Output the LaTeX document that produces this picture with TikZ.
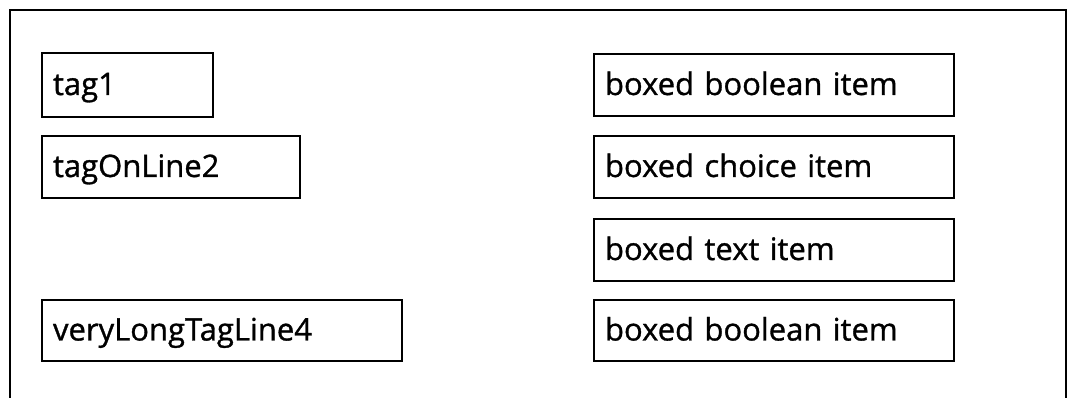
\documentclass[tikz,border=0pt]{standalone}
\usepackage{fontspec}
\setmainfont{Open Sans}
\newfontfamily\itemfont{Open Sans}[FakeBold=1.0]
\begin{document}
\begin{tikzpicture}[x=1pt,y=-1pt,
  itembox/.style={draw,line width=2pt,anchor=north west,inner xsep=11pt,inner ysep=0pt,
    align=left,text height=20pt,text depth=0pt,font=\itemfont\fontsize{31}{33}\selectfont},
  frameline/.style={line width=1.4pt}]
\useasboundingbox (0,0) rectangle (1069,398);
\coordinate (fbl) at (10,398);
\coordinate (ftl) at (10,10);
\coordinate (ftr) at (1066,10);
\coordinate (fbr) at (1066,398);
\draw[frameline] (fbl) -- (ftl) -- (ftr) -- (fbr);
% left column
\node[itembox,text width=149pt,minimum height=64pt] (t1) at (41,52) {tag1};
\node[itembox,text width=236pt,minimum height=62pt] (t2) at (41,135) {tagOnLine2};
\node[itembox,text width=338pt,minimum height=61pt] (t4) at (41,299) {veryLongTagLine4};
% right column
\node[itembox,text width=338pt,minimum height=62pt] (b1) at (593,53) {boxed boolean item};
\node[itembox,text width=338pt,minimum height=62pt] (b2) at (593,135) {boxed choice item};
\node[itembox,text width=338pt,minimum height=62pt] (b3) at (593,218) {boxed text item};
\node[itembox,text width=338pt,minimum height=61pt] (b4) at (593,299) {boxed boolean item};
\end{tikzpicture}
\end{document}
